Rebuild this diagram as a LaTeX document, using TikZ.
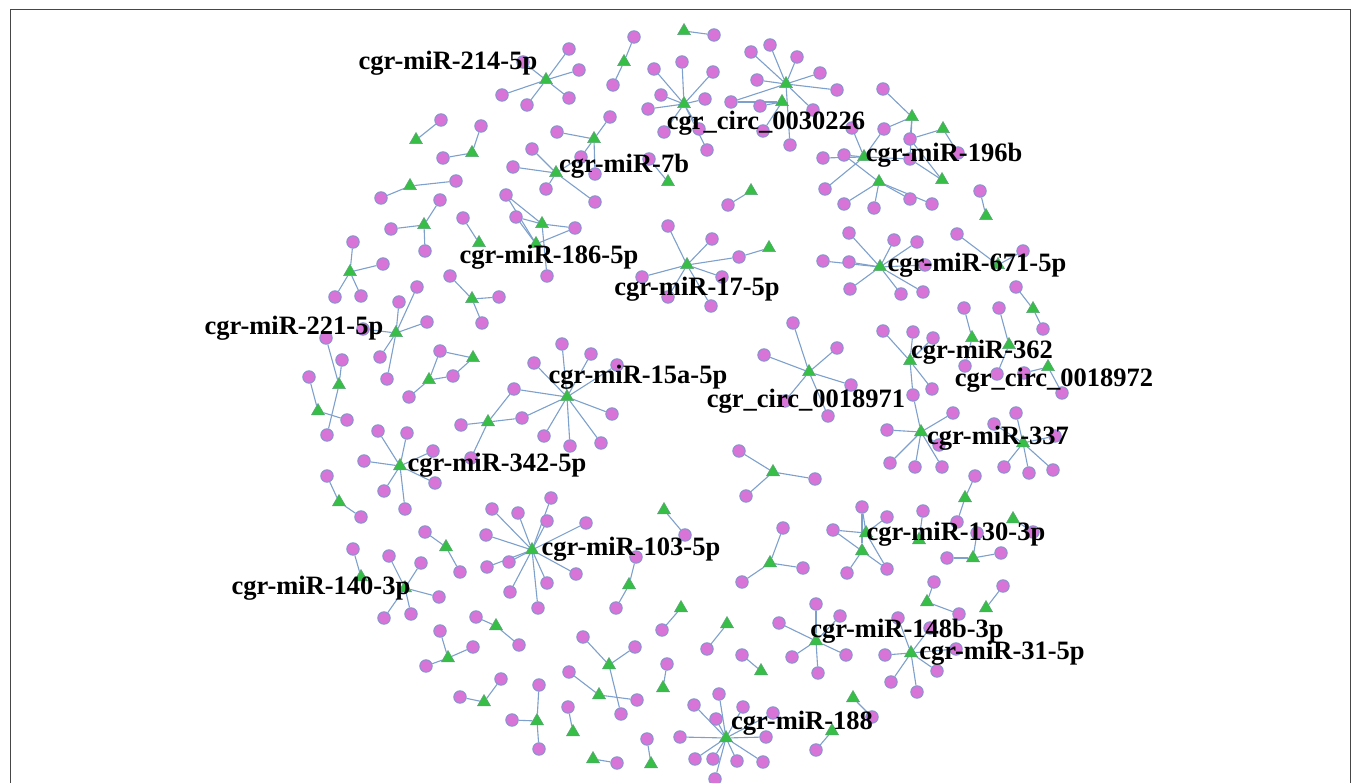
\documentclass[tikz,border=0pt]{standalone}
\usepackage{fontspec}
\setmainfont{Liberation Serif}
\usetikzlibrary{shapes.geometric}
\pgfdeclarelayer{bg}
\pgfsetlayers{bg,main}
\definecolor{circfill}{RGB}{216,116,216}
\definecolor{circline}{RGB}{125,150,205}
\definecolor{trifill}{RGB}{55,190,70}
\definecolor{triline}{RGB}{90,160,120}
\definecolor{edgecol}{RGB}{125,160,205}
\definecolor{framecol}{RGB}{70,70,70}
\tikzset{
  cn/.style={circle, fill=circfill, draw=circline, line width=0.9pt, minimum size=12.5pt, inner sep=0pt},
  tn/.style={regular polygon, regular polygon sides=3, fill=trifill, draw=triline, line width=0.5pt, minimum size=15pt, inner sep=0pt},
  ed/.style={draw=edgecol, line width=1.1pt},
  lab/.style={font=\bfseries\fontsize{26.5}{28}\selectfont, inner sep=0pt, text=black},
  framebox/.style={draw=framecol, line width=1pt}
}
\newcommand\mkC[3]{\node[cn] (#1) at (#2,#3) {};}
\newcommand\mkT[3]{\node[tn] (#1) at (#2,#3) {};}
\begin{document}
\begin{tikzpicture}[x=1pt,y=-1pt]
\useasboundingbox (0,0) rectangle (1360,783);
% A
\mkT{tA}{546}{80}
\mkC{A1}{569}{49}\mkC{A2}{579}{70}\mkC{A3}{569}{98}\mkC{A4}{527}{105}\mkC{A5}{502}{95}\mkC{A6}{523}{62}
% B, C
\mkT{tB}{624}{62}\mkC{B1}{634}{37}\mkC{B2}{613}{85}
\mkT{tC}{684}{31}\mkC{C1}{714}{35}
% D
\mkT{tD}{684}{104}
\mkC{D1}{654}{69}\mkC{D2}{682}{62}\mkC{D3}{661}{95}\mkC{D4}{648}{109}\mkC{D5}{664}{132}\mkC{D6}{713}{72}\mkC{D7}{705}{99}\mkC{D8}{731}{102}\mkC{D9}{699}{129}\mkC{D10}{707}{150}
% E
\mkT{tE}{786}{84}\mkT{tEb}{782}{102}
\mkC{E1}{751}{52}\mkC{E2}{770}{45}\mkC{E3}{797}{57}\mkC{E4}{820}{73}\mkC{E5}{837}{90}\mkC{E6}{757}{80}\mkC{E7}{813}{110}\mkC{E8}{760}{106}\mkC{E9}{763}{131}\mkC{E10}{790}{145}
% F
\mkT{tF}{751}{191}\mkC{F1}{728}{205}
% G
\mkT{tG}{864}{157}\mkT{tGb}{879}{182}\mkT{tGc}{912}{117}\mkT{tGd}{943}{129}\mkT{tGe}{942}{180}
\mkC{G1}{852}{128}\mkC{G2}{884}{129}\mkC{G3}{823}{158}\mkC{G4}{844}{155}\mkC{G5}{825}{189}\mkC{G6}{844}{204}\mkC{G7}{874}{208}\mkC{G8}{883}{89}\mkC{G9}{910}{139}\mkC{G10}{958}{153}\mkC{G11}{910}{159}\mkC{G12}{910}{199}\mkC{G13}{932}{204}
% H
\mkT{tH}{986}{216}\mkC{H1}{980}{191}
% I
\mkT{tI}{880}{267}
\mkC{I1}{849}{233}\mkC{I2}{823}{261}\mkC{I3}{849}{262}\mkC{I4}{894}{240}\mkC{I5}{917}{242}\mkC{I6}{925}{265}\mkC{I7}{901}{294}\mkC{I8}{923}{292}\mkC{I9}{850}{289}
% J K L M N
\mkT{tJ}{998}{265}\mkC{J1}{957}{234}\mkC{J2}{1023}{251}
\mkT{tK}{1033}{309}\mkC{K1}{1016}{287}\mkC{K2}{1043}{329}
\mkT{tL}{972}{338}\mkC{L1}{964}{308}\mkC{L2}{965}{366}
\mkT{tM}{1009}{345}\mkC{M1}{999}{308}\mkC{M2}{997}{374}
\mkT{tN}{1048}{367}\mkC{N1}{1024}{373}\mkC{N2}{1062}{393}
% O P
\mkT{tO}{910}{361}\mkC{O1}{883}{331}\mkC{O2}{913}{332}\mkC{O3}{933}{338}\mkC{O4}{932}{389}\mkC{O5}{913}{395}
\mkT{tP}{921}{432}\mkC{P1}{953}{413}\mkC{P2}{887}{430}\mkC{P3}{890}{463}\mkC{P4}{915}{467}\mkC{P5}{942}{467}\mkC{P6}{939}{445}
% Q R
\mkT{tQ}{1023}{443}\mkC{Q1}{1016}{413}\mkC{Q2}{994}{424}\mkC{Q3}{1055}{436}\mkC{Q4}{1004}{467}\mkC{Q5}{1029}{473}\mkC{Q6}{1053}{470}
\mkT{tR}{965}{498}\mkC{R1}{975}{476}\mkC{R2}{957}{522}
% S T U V W
\mkT{tS}{866}{533}\mkT{tSb}{862}{551}\mkT{tSc}{919}{540}
\mkC{S1}{862}{507}\mkC{S2}{833}{530}\mkC{S3}{847}{573}\mkC{S4}{887}{569}\mkC{S5}{887}{517}\mkC{S6}{923}{511}
\mkT{tT}{973}{558}\mkC{T1}{947}{558}\mkC{T2}{1001}{553}\mkC{T3}{977}{533}
\mkT{tU}{1013}{519}\mkC{U1}{1033}{532}
\mkT{tV}{927}{602}\mkC{V1}{934}{582}\mkC{V2}{959}{614}
\mkT{tW}{986}{608}\mkC{W1}{1003}{586}
% X Y
\mkT{tX}{911}{653}\mkC{X1}{898}{618}\mkC{X2}{930}{628}\mkC{X3}{885}{655}\mkC{X4}{956}{649}\mkC{X5}{937}{671}\mkC{X6}{891}{682}\mkC{X7}{917}{692}
\mkT{tY}{816}{641}\mkC{Y1}{816}{604}\mkC{Y2}{779}{623}\mkC{Y3}{840}{616}\mkC{Y4}{792}{657}\mkC{Y5}{846}{655}\mkC{Y6}{818}{673}
% Z AA AB
\mkT{tZ}{761}{671}\mkC{Z1}{742}{655}
\mkT{tAA}{727}{624}\mkC{AA1}{707}{649}
\mkT{tAB}{770}{563}\mkC{AB1}{783}{528}\mkC{AB2}{803}{568}\mkC{AB3}{742}{582}
% AC AD
\mkT{tAC}{809}{372}\mkC{AC1}{793}{323}\mkC{AC2}{764}{355}\mkC{AC3}{837}{348}\mkC{AC4}{851}{385}\mkC{AC5}{828}{416}\mkC{AC6}{785}{401}
\mkT{tAD}{773}{472}\mkC{AD1}{739}{451}\mkC{AD2}{815}{479}\mkC{AD3}{746}{496}
% AE AF
\mkT{tAE}{853}{698}\mkC{AE1}{872}{717}
\mkT{tAF}{832}{731}\mkC{AF1}{816}{750}
% AG
\mkT{tAG}{726}{738}
\mkC{AG1}{719}{694}\mkC{AG2}{743}{707}\mkC{AG3}{716}{719}\mkC{AG4}{773}{713}\mkC{AG5}{766}{737}\mkC{AG6}{695}{759}\mkC{AG7}{713}{759}\mkC{AG8}{737}{761}\mkC{AG9}{763}{762}\mkC{AG10}{715}{779}\mkC{AG11}{694}{705}\mkC{AG12}{680}{737}
% AH .. AQ
\mkT{tAH}{664}{510}\mkC{AH1}{685}{535}
\mkT{tAI}{681}{608}\mkC{AI1}{662}{630}
\mkT{tAJ}{629}{585}\mkC{AJ1}{636}{557}\mkC{AJ2}{616}{608}
\mkT{tAK}{609}{665}\mkC{AK1}{583}{637}\mkC{AK2}{635}{647}\mkC{AK3}{621}{714}
\mkT{tAL}{599}{695}\mkC{AL1}{569}{672}\mkC{AL2}{637}{700}
\mkT{tAM}{663}{688}\mkC{AM1}{667}{664}
\mkT{tAN}{537}{721}\mkC{AN1}{539}{685}\mkC{AN2}{512}{720}\mkC{AN3}{539}{749}
\mkT{tAO}{573}{732}\mkC{AO1}{568}{707}
\mkT{tAP}{593}{759}\mkC{AP1}{617}{763}
\mkT{tAQ}{651}{764}\mkC{AQ1}{647}{739}
% AR .. AW
\mkT{tAR}{484}{702}\mkC{AR1}{460}{697}\mkC{AR2}{501}{679}
\mkT{tAS}{496}{626}\mkC{AS1}{476}{617}\mkC{AS2}{519}{645}
\mkT{tAT}{448}{658}\mkC{AT1}{440}{631}\mkC{AT2}{473}{647}\mkC{AT3}{426}{666}
\mkT{tAU}{446}{547}\mkC{AU1}{425}{532}\mkC{AU2}{460}{572}
\mkT{tAV}{405}{588}\mkC{AV1}{389}{556}\mkC{AV2}{421}{563}\mkC{AV3}{439}{597}\mkC{AV4}{411}{614}\mkC{AV5}{384}{618}
\mkT{tAW}{361}{577}\mkC{AW1}{353}{549}
% AX
\mkT{tAX}{532}{550}
\mkC{AX1}{547}{521}\mkC{AX2}{586}{523}\mkC{AX3}{509}{562}\mkC{AX4}{576}{574}\mkC{AX5}{547}{583}\mkC{AX6}{510}{592}\mkC{AX7}{538}{608}\mkC{AX8}{486}{535}\mkC{AX9}{487}{567}\mkC{AX10}{551}{498}\mkC{AX11}{492}{509}\mkC{AX12}{518}{513}
% AY AZ
\mkT{tAY}{400}{466}\mkC{AY1}{378}{431}\mkC{AY2}{407}{433}\mkC{AY3}{433}{451}\mkC{AY4}{364}{461}\mkC{AY5}{435}{483}\mkC{AY6}{384}{491}\mkC{AY7}{405}{509}
\mkT{tAZ}{339}{502}\mkC{AZ1}{327}{476}\mkC{AZ2}{361}{517}
% BA BB BC
\mkT{tBA}{567}{397}
\mkC{BA1}{562}{344}\mkC{BA2}{591}{354}\mkC{BA3}{534}{363}\mkC{BA4}{514}{389}\mkC{BA5}{612}{414}\mkC{BA6}{522}{418}\mkC{BA7}{544}{436}\mkC{BA8}{570}{446}\mkC{BA9}{601}{443}\mkC{BA10}{617}{365}
\mkT{tBB}{488}{422}\mkC{BB1}{461}{425}\mkC{BB2}{471}{458}
\mkT{tBC}{429}{380}\mkT{tBCb}{473}{358}\mkC{BC1}{440}{351}\mkC{BC2}{453}{376}\mkC{BC3}{409}{397}
% BD BE BF BG
\mkT{tBD}{396}{333}\mkC{BD1}{417}{287}\mkC{BD2}{399}{302}\mkC{BD3}{427}{322}\mkC{BD4}{380}{357}\mkC{BD5}{387}{379}\mkC{BD6}{363}{329}
\mkT{tBE}{339}{385}\mkC{BE1}{326}{338}\mkC{BE2}{342}{360}\mkC{BE3}{327}{435}
\mkT{tBF}{318}{411}\mkC{BF1}{309}{377}\mkC{BF2}{347}{420}
\mkT{tBG}{350}{272}\mkC{BG1}{353}{242}\mkC{BG2}{383}{264}\mkC{BG3}{335}{297}\mkC{BG4}{361}{296}
% BH .. BM
\mkT{tBH}{424}{225}\mkC{BH1}{440}{200}\mkC{BH2}{391}{229}\mkC{BH3}{425}{251}
\mkT{tBI}{479}{243}\mkC{BI1}{463}{218}
\mkT{tBJ}{410}{186}\mkC{BJ1}{456}{181}\mkC{BJ2}{381}{198}
\mkT{tBK}{472}{153}\mkC{BK1}{481}{126}\mkC{BK2}{443}{158}
\mkT{tBL}{416}{140}\mkC{BL1}{441}{120}
\mkT{tBM}{472}{299}\mkC{BM1}{450}{276}\mkC{BM2}{482}{323}\mkC{BM3}{499}{297}
% BN BO BP
\mkT{tBN}{542}{224}\mkT{tBNb}{536}{244}\mkC{BN1}{506}{195}\mkC{BN2}{516}{217}\mkC{BN3}{575}{228}\mkC{BN4}{547}{276}
\mkT{tBO}{594}{139}\mkT{tBOb}{556}{173}\mkT{tBOc}{668}{182}
\mkC{BO1}{610}{117}\mkC{BO2}{557}{132}\mkC{BO3}{581}{157}\mkC{BO4}{595}{174}\mkC{BO5}{532}{149}\mkC{BO6}{513}{167}\mkC{BO7}{546}{189}\mkC{BO8}{595}{202}\mkC{BO9}{649}{159}
\mkT{tBP}{687}{265}\mkT{tBPb}{769}{248}
\mkC{BP1}{668}{226}\mkC{BP2}{712}{239}\mkC{BP3}{739}{257}\mkC{BP4}{722}{277}\mkC{BP5}{711}{306}\mkC{BP6}{642}{277}\mkC{BP7}{668}{297}

\begin{pgfonlayer}{bg}
\draw[framebox] (10,10) rectangle (1350,800);
\foreach \x in {A1,A2,A3,A4,A5,A6} \draw[ed] (tA) -- (\x);
\foreach \x in {B1,B2} \draw[ed] (tB) -- (\x);
\draw[ed] (tC) -- (C1);
\foreach \x in {D1,D2,D3,D4,D5,D6,D7,D9,D10} \draw[ed] (tD) -- (\x);
\foreach \x in {E1,E2,E3,E4,E5,E6,E7,E10,D8} \draw[ed] (tE) -- (\x);
\foreach \x in {E8,E9,D8} \draw[ed] (tEb) -- (\x);
\draw[ed] (tF) -- (F1);
\foreach \x in {G1,G2,G3,G4,G5,G11} \draw[ed] (tG) -- (\x);
\foreach \x in {G4,G6,G7,G12,G13} \draw[ed] (tGb) -- (\x);
\foreach \x in {G8,G2,G9,G11} \draw[ed] (tGc) -- (\x);
\foreach \x in {G9,G10} \draw[ed] (tGd) -- (\x);
\foreach \x in {G9,G11} \draw[ed] (tGe) -- (\x);
\draw[ed] (tH) -- (H1);
\foreach \x in {I1,I2,I3,I4,I5,I6,I7,I8,I9} \draw[ed] (tI) -- (\x);
\foreach \x in {J1,J2} \draw[ed] (tJ) -- (\x);
\foreach \x in {K1,K2} \draw[ed] (tK) -- (\x);
\foreach \x in {L1,L2} \draw[ed] (tL) -- (\x);
\foreach \x in {M1,M2} \draw[ed] (tM) -- (\x);
\foreach \x in {N1,N2} \draw[ed] (tN) -- (\x);
\foreach \x in {O1,O2,O3,O4,O5} \draw[ed] (tO) -- (\x);
\foreach \x in {O5,P1,P2,P3,P4,P5,P6} \draw[ed] (tP) -- (\x);
\foreach \x in {Q1,Q2,Q3,Q4,Q5,Q6} \draw[ed] (tQ) -- (\x);
\foreach \x in {R1,R2} \draw[ed] (tR) -- (\x);
\foreach \x in {S1,S2,S4,S5} \draw[ed] (tS) -- (\x);
\foreach \x in {S1,S2,S3,S4} \draw[ed] (tSb) -- (\x);
\draw[ed] (tSc) -- (S6);
\foreach \x in {T1,T2,T3} \draw[ed] (tT) -- (\x);
\draw[ed] (tU) -- (U1);
\foreach \x in {V1,V2} \draw[ed] (tV) -- (\x);
\draw[ed] (tW) -- (W1);
\foreach \x in {X1,X2,X3,X4,X5,X6,X7} \draw[ed] (tX) -- (\x);
\foreach \x in {Y1,Y2,Y3,Y4,Y5,Y6} \draw[ed] (tY) -- (\x);
\draw[ed] (tZ) -- (Z1);
\draw[ed] (tAA) -- (AA1);
\foreach \x in {AB1,AB2,AB3} \draw[ed] (tAB) -- (\x);
\foreach \x in {AC1,AC2,AC3,AC4,AC5,AC6} \draw[ed] (tAC) -- (\x);
\foreach \x in {AD1,AD2,AD3} \draw[ed] (tAD) -- (\x);
\draw[ed] (tAE) -- (AE1);
\draw[ed] (tAF) -- (AF1);
\foreach \x in {AG1,AG2,AG3,AG4,AG5,AG6,AG7,AG8,AG9,AG10,AG11,AG12} \draw[ed] (tAG) -- (\x);
\draw[ed] (tAH) -- (AH1);
\draw[ed] (tAI) -- (AI1);
\foreach \x in {AJ1,AJ2} \draw[ed] (tAJ) -- (\x);
\foreach \x in {AK1,AK2,AK3} \draw[ed] (tAK) -- (\x);
\foreach \x in {AL1,AL2} \draw[ed] (tAL) -- (\x);
\draw[ed] (tAM) -- (AM1);
\foreach \x in {AN1,AN2,AN3} \draw[ed] (tAN) -- (\x);
\draw[ed] (tAO) -- (AO1);
\draw[ed] (tAP) -- (AP1);
\draw[ed] (tAQ) -- (AQ1);
\foreach \x in {AR1,AR2} \draw[ed] (tAR) -- (\x);
\foreach \x in {AS1,AS2} \draw[ed] (tAS) -- (\x);
\foreach \x in {AT1,AT2,AT3} \draw[ed] (tAT) -- (\x);
\foreach \x in {AU1,AU2} \draw[ed] (tAU) -- (\x);
\foreach \x in {AV1,AV2,AV3,AV4,AV5} \draw[ed] (tAV) -- (\x);
\draw[ed] (tAW) -- (AW1);
\foreach \x in {AX1,AX2,AX3,AX4,AX5,AX6,AX7,AX8,AX9,AX10,AX11,AX12} \draw[ed] (tAX) -- (\x);
\foreach \x in {AY1,AY2,AY3,AY4,AY5,AY6,AY7} \draw[ed] (tAY) -- (\x);
\foreach \x in {AZ1,AZ2} \draw[ed] (tAZ) -- (\x);
\foreach \x in {BA1,BA2,BA3,BA4,BA5,BA6,BA7,BA8,BA9,BA10} \draw[ed] (tBA) -- (\x);
\foreach \x in {BB1,BB2,BA4,BA6} \draw[ed] (tBB) -- (\x);
\foreach \x in {BC1,BC2,BC3} \draw[ed] (tBC) -- (\x);
\foreach \x in {BC1,BC2} \draw[ed] (tBCb) -- (\x);
\foreach \x in {BD1,BD2,BD3,BD4,BD5,BD6} \draw[ed] (tBD) -- (\x);
\foreach \x in {BE1,BE2,BE3} \draw[ed] (tBE) -- (\x);
\foreach \x in {BF1,BF2} \draw[ed] (tBF) -- (\x);
\foreach \x in {BG1,BG2,BG3,BG4} \draw[ed] (tBG) -- (\x);
\foreach \x in {BH1,BH2,BH3} \draw[ed] (tBH) -- (\x);
\draw[ed] (tBI) -- (BI1);
\foreach \x in {BJ1,BJ2} \draw[ed] (tBJ) -- (\x);
\foreach \x in {BK1,BK2} \draw[ed] (tBK) -- (\x);
\draw[ed] (tBL) -- (BL1);
\foreach \x in {BM1,BM2,BM3} \draw[ed] (tBM) -- (\x);
\foreach \x in {BN1,BN2,BN3,BN4} \draw[ed] (tBN) -- (\x);
\foreach \x in {BN1,BN2,BN3} \draw[ed] (tBNb) -- (\x);
\foreach \x in {BO1,BO2,BO3,BO4} \draw[ed] (tBO) -- (\x);
\foreach \x in {BO3,BO5,BO6,BO7,BO8} \draw[ed] (tBOb) -- (\x);
\draw[ed] (tBOc) -- (BO9);
\foreach \x in {BP1,BP2,BP3,BP4,BP5,BP6,BP7} \draw[ed] (tBP) -- (\x);
\draw[ed] (tBPb) -- (BP3);
\end{pgfonlayer}

% labels
\node[lab] (L214) at (448,63) {cgr-miR-214-5p};
\node[lab] (L0030226) at (766,123) {cgr\_circ\_0030226};
\node[lab] (L196b) at (944,155) {cgr-miR-196b};
\node[lab] (L7b) at (624,166) {cgr-miR-7b};
\node[lab] (L186) at (549,257) {cgr-miR-186-5p};
\node[lab] (L671) at (977,265) {cgr-miR-671-5p};
\node[lab] (L17) at (697,289) {cgr-miR-17-5p};
\node[lab] (L221) at (294,328) {cgr-miR-221-5p};
\node[lab] (L362) at (982,352) {cgr-miR-362};
\node[lab] (L15a) at (638,377) {cgr-miR-15a-5p};
\node[lab] (L0018972) at (1054,380) {cgr\_circ\_0018972};
\node[lab] (L0018971) at (806,401) {cgr\_circ\_0018971};
\node[lab] (L337) at (998,438) {cgr-miR-337};
\node[lab] (L342) at (497,465) {cgr-miR-342-5p};
\node[lab] (L130) at (956,534) {cgr-miR-130-3p};
\node[lab] (L103) at (631,549) {cgr-miR-103-5p};
\node[lab] (L140) at (321,588) {cgr-miR-140-3p};
\node[lab] (L148) at (907,631) {cgr-miR-148b-3p};
\node[lab] (L31) at (1002,653) {cgr-miR-31-5p};
\node[lab] (L188) at (802,723) {cgr-miR-188};
\end{tikzpicture}
\end{document}
